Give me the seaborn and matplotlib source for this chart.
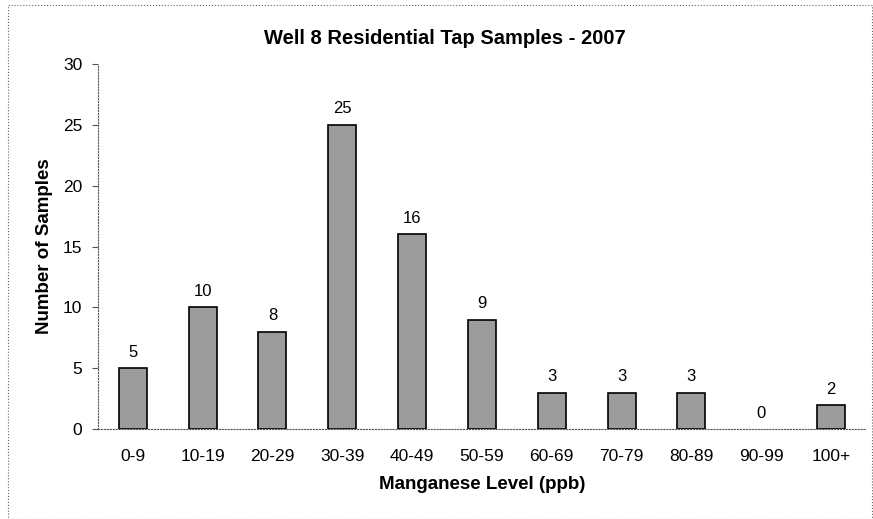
import numpy as np
import pandas as pd
import matplotlib
matplotlib.use('Agg')
import matplotlib.pyplot as plt
import seaborn as sns
from matplotlib.patches import Rectangle

levels = ['0-9', '10-19', '20-29', '30-39', '40-49', '50-59', '60-69',
          '70-79', '80-89', '90-99', '100+']
counts = [5, 10, 8, 25, 16, 9, 3, 3, 3, 0, 2]

df = pd.DataFrame({'Level': levels, 'Samples': counts})

sns.set_style('white', rc={'text.color': 'black', 'axes.labelcolor': 'black',
                           'xtick.color': 'black', 'ytick.color': 'black'})
plt.rcParams['font.family'] = ['Liberation Sans', 'DejaVu Sans']

fig = plt.figure(figsize=(8.73, 5.19), dpi=100)
ax = fig.add_axes([0.112, 0.173, 0.880, 0.704])

sns.barplot(data=df, x='Level', y='Samples', color='#9c9c9c', width=0.4,
            edgecolor='black', linewidth=1.2, saturation=1, ax=ax)

# hide the outline of empty bars
for p in ax.patches:
    if p.get_height() == 0:
        p.set_linewidth(0)

for bars in ax.containers:
    ax.bar_label(bars, padding=6, fontsize=12, color='black')

ax.set_ylim(0, 30)
ax.set_yticks(range(0, 31, 5))
ax.set_xlim(-0.5, len(levels) - 0.5)
ax.set_title('Well 8 Residential Tap Samples - 2007', fontsize=14.5,
             fontweight='bold', pad=14, x=0.452)
ax.set_xlabel('Manganese Level (ppb)', fontsize=13.5, fontweight='bold', labelpad=9)
ax.set_ylabel('Number of Samples', fontsize=13.5, fontweight='bold', labelpad=7)

ax.spines['top'].set_visible(False)
ax.spines['right'].set_visible(False)
ax.spines['left'].set_linestyle(':')
ax.spines['bottom'].set_linestyle(':')
ax.spines['left'].set_color('#555555')
ax.spines['bottom'].set_color('#555555')

ax.set_xticks(np.arange(-0.5, len(levels), 1), minor=True)
ax.tick_params(axis='x', which='major', length=0, labelsize=12.5, pad=14)
ax.tick_params(axis='x', which='minor', length=4, color='#555555', direction='out')
ax.tick_params(axis='y', length=4, color='#555555', labelcolor='black',
               direction='out', left=True, labelsize=12.5, pad=7)

fig.patches.append(Rectangle((0.009, 0.0), 0.99, 0.99, transform=fig.transFigure,
                             fill=False, linestyle=':', edgecolor='#666666',
                             linewidth=0.8))

fig.savefig('out.png', dpi=100)
